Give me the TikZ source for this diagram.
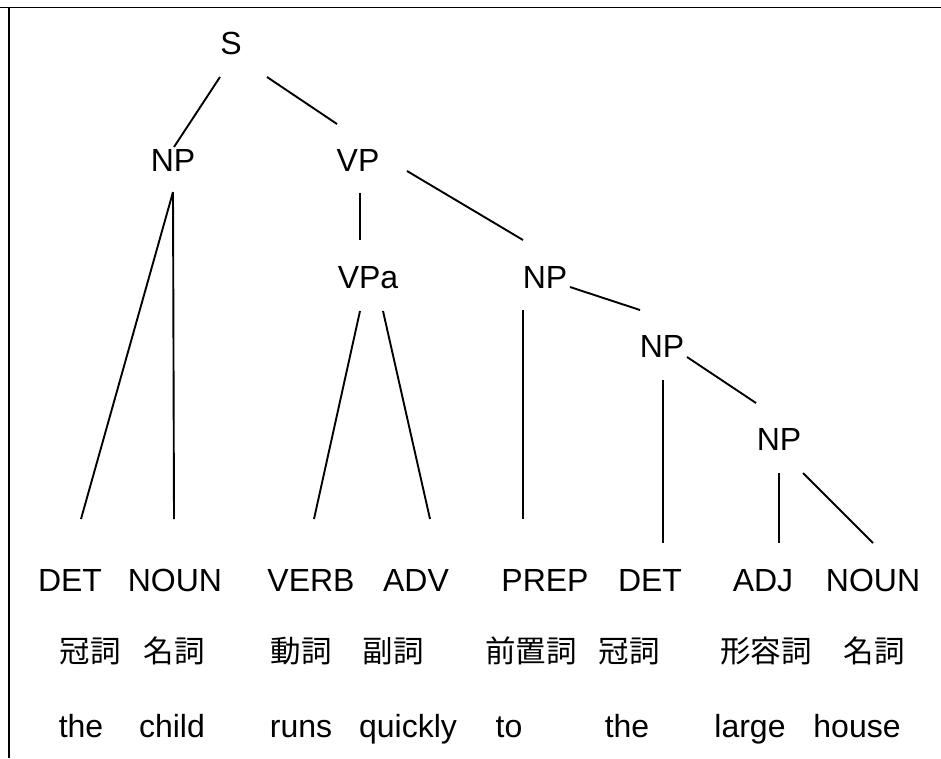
\documentclass[tikz,border=0pt]{standalone}
\usepackage{fontspec}
\setmainfont{Liberation Sans}
\newfontfamily\cjk{Noto Sans CJK JP}
\begin{document}
\begin{tikzpicture}[x=1pt,y=-1pt,
  lbl/.style={anchor=base,inner sep=0pt,font=\fontsize{32}{38}\selectfont},
  jlbl/.style={anchor=base,inner sep=0pt,font=\cjk\fontsize{30.5}{36}\selectfont},
  edge/.style={line width=1.9pt,line cap=butt},
  frame/.style={line width=1.9pt}]
\useasboundingbox (0,0) rectangle (941,758);
% frame
\coordinate (tl) at (0,7.5);
\coordinate (tr) at (941,7.5);
\coordinate (lt) at (9,7.5);
\coordinate (lb) at (9,758);
\draw[frame] (tl) -- (tr);
\draw[frame] (lt) -- (lb);
% tree nodes
\node[lbl] (S) at (231,54) {S};
\node[lbl] (NPa) at (173,171) {NP};
\node[lbl] (VP) at (358,171) {VP};
\node[lbl] (VPa) at (368,288) {VPa};
\node[lbl] (NPb) at (545,288) {NP};
\node[lbl] (NPc) at (662,357) {NP};
\node[lbl] (NPd) at (779,450) {NP};
% POS row
\node[lbl] (p1) at (70,591) {DET};
\node[lbl] (p2) at (175,591) {NOUN};
\node[lbl] (p3) at (311,591) {VERB};
\node[lbl] (p4) at (416,591) {ADV};
\node[lbl] (p5) at (545,591) {PREP};
\node[lbl] (p6) at (650,591) {DET};
\node[lbl] (p7) at (763,591) {ADJ};
\node[lbl] (p8) at (873,591) {NOUN};
% Japanese row
\node[jlbl] (j1) at (90,662) {冠詞};
\node[jlbl] (j2) at (174,662) {名詞};
\node[jlbl] (j3) at (301,662) {動詞};
\node[jlbl] (j4) at (393,662) {副詞};
\node[jlbl] (j5) at (531,662) {前置詞};
\node[jlbl] (j6) at (629,662) {冠詞};
\node[jlbl] (j7) at (766,662) {形容詞};
\node[jlbl] (j8) at (874,662) {名詞};
% word row
\node[lbl] (w1) at (81,737) {the};
\node[lbl] (w2) at (172,737) {child};
\node[lbl] (w3) at (301,737) {runs};
\node[lbl] (w4) at (408,737) {quickly};
\node[lbl] (w5) at (509,737) {to};
\node[lbl] (w6) at (627,737) {the};
\node[lbl] (w7) at (750,737) {large};
\node[lbl] (w8) at (857,737) {house};
% connectors (end points given relative to the named nodes' base)
\draw[edge] ([shift={(-11,23)}]S.base) -- ([shift={(1,-24)}]NPa.base);
\draw[edge] ([shift={(36,23)}]S.base) -- ([shift={(-21,-47)}]VP.base);
\draw[edge] ([shift={(0,21)}]NPa.base) -- ([shift={(11,-72)}]p1.base);
\draw[edge] ([shift={(0,21)}]NPa.base) -- ([shift={(-1,-72)}]p2.base);
\draw[edge] ([shift={(2,22)}]VP.base) -- ([shift={(-8,-48)}]VPa.base);
\draw[edge] ([shift={(49,0)}]VP.base) -- ([shift={(-22,-48)}]NPb.base);
\draw[edge] ([shift={(-8,23)}]VPa.base) -- ([shift={(3,-72)}]p3.base);
\draw[edge] ([shift={(15,23)}]VPa.base) -- ([shift={(14,-72)}]p4.base);
\draw[edge] ([shift={(-22,22)}]NPb.base) -- ([shift={(-22,-72)}]p5.base);
\draw[edge] ([shift={(25,-1)}]NPb.base) -- ([shift={(-22,-47)}]NPc.base);
\draw[edge] ([shift={(1,23)}]NPc.base) -- ([shift={(13,-48)}]p6.base);
\draw[edge] ([shift={(25,0)}]NPc.base) -- ([shift={(-23,-47)}]NPd.base);
\draw[edge] ([shift={(0,23)}]NPd.base) -- ([shift={(16,-48)}]p7.base);
\draw[edge] ([shift={(24,23)}]NPd.base) -- ([shift={(0,-48)}]p8.base);
\end{tikzpicture}
\end{document}
